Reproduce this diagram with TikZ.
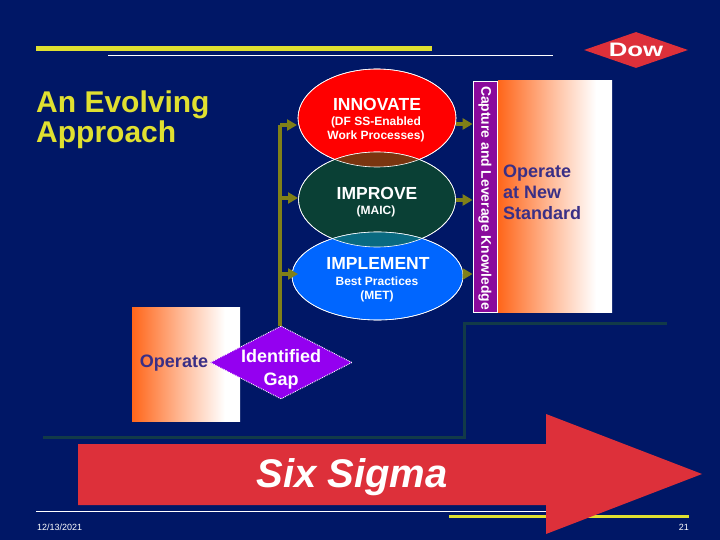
\documentclass[tikz,border=0pt]{standalone}
\usepackage{fontspec}
\setmainfont{Liberation Sans}
\usetikzlibrary{shapes.geometric,arrows.meta}
\definecolor{bgblue}{HTML}{001766}
\definecolor{titley}{HTML}{E0E030}
\definecolor{olive}{HTML}{808018}
\definecolor{darkline}{HTML}{123A48}
\definecolor{redbar}{HTML}{DD303A}
\definecolor{barpurple}{HTML}{8A0A9C}
\definecolor{gappurple}{HTML}{9400F0}
\definecolor{textpurple}{HTML}{3A2F86}
\definecolor{orangeg}{HTML}{FF661A}
\definecolor{impgreen}{HTML}{0A4035}
\definecolor{impblue}{HTML}{0066FF}
\definecolor{lensbrown}{HTML}{7A3510}
\definecolor{lensteal}{HTML}{0A6A80}
\pgfdeclarehorizontalshading{opgrad}{100bp}{color(0bp)=(orangeg); color(25bp)=(orangeg); color(48bp)=(orangeg!45!white); color(68bp)=(white); color(100bp)=(white)}
\tikzset{
  oval/.style={ellipse,draw=white,line width=0.6pt,inner sep=0pt},
  grad/.style={rectangle,shading=opgrad,inner sep=0pt},
  label/.style={inner sep=0pt,text=white,align=center},
  flow/.style={draw=olive,line width=3.5pt,-{Triangle[length=10pt,width=11pt]}},
  trunk/.style={draw=olive,line width=4pt},
  stepline/.style={draw=darkline,line width=3pt},
  heads/.style={font=\fontsize{17.5}{20}\selectfont\bfseries},
  subs/.style={font=\fontsize{12}{14}\selectfont\bfseries},
  big/.style={font=\fontsize{18}{21}\selectfont\bfseries},
  foot/.style={font=\fontsize{9}{10}\selectfont,text=white,inner sep=0pt}
}
\begin{document}
\begin{tikzpicture}[x=1pt,y=-1pt]
\fill[bgblue] (0,0) rectangle (720,540);
\useasboundingbox (0,0) rectangle (720,540);
% rules
\fill[titley] (36,46.5) rectangle (432,51.5);
\draw[white,line width=0.7pt] (108,55) -- (553,55);
\draw[white,line width=0.7pt] (36,511) -- (546,511);
\fill[titley] (449,514.5) rectangle (689,517.5);
% logo
\node[diamond,fill=redbar,minimum width=104pt,minimum height=36pt,inner sep=0pt,aspect=2.9] (logo) at (636,50) {};
\node[font=\fontsize{19.5}{20}\selectfont\bfseries,text=white,inner sep=0pt,xscale=1.32] (logotext) at (636,50) {Dow};
% title
\node[anchor=north west,inner sep=0pt,text=titley,align=left,font=\fontsize{30}{30}\selectfont\bfseries] (title) at (36,91) {An Evolving\\Approach};
% ovals
\node[oval,fill=red,minimum width=158pt,minimum height=98pt] (innovate) at (377,118) {};
\node[oval,fill=impgreen,minimum width=157pt,minimum height=95pt] (improve) at (377,199.5) {};
\node[oval,fill=impblue,minimum width=171pt,minimum height=88pt] (implement) at (377.5,276) {};
\begin{scope}
  \clip (377,118) ellipse [x radius=79,y radius=49];
  \fill[lensbrown] (377,199.5) ellipse [x radius=78.5,y radius=47.5];
\end{scope}
\begin{scope}
  \clip (377,199.5) ellipse [x radius=78.5,y radius=47.5];
  \fill[lensteal] (377.5,276) ellipse [x radius=85.5,y radius=44];
\end{scope}
\draw[white,line width=0.6pt] (377,118) ellipse [x radius=79,y radius=49];
\draw[white,line width=0.6pt] (377,199.5) ellipse [x radius=78.5,y radius=47.5];
\draw[white,line width=0.6pt] (377.5,276) ellipse [x radius=85.5,y radius=44];
% oval labels
\node[label,heads] (t1) at (377,104) {INNOVATE};
\node[label,subs] (t1b) at (376,129) {(DF SS-Enabled\\Work Processes)};
\node[label,heads] (t2) at (377,193) {IMPROVE};
\node[label,subs] (t2b) at (376,211) {(MAIC)};
\node[label,heads] (t3) at (378,263) {IMPLEMENT};
\node[label,subs] (t3b) at (377,289) {Best Practices\\(MET)};
% bar and gradient boxes
\node[rectangle,draw=white,line width=0.8pt,fill=barpurple,minimum width=24pt,minimum height=231pt,inner sep=0pt] (bar) at (485,196.5) {};
\node[label,rotate=-90,font=\fontsize{13.9}{15}\selectfont\bfseries] (bartext) at (485,198) {Capture and Leverage Knowledge};
\node[grad,minimum width=114pt,minimum height=231pt] (newstd) at (555,196.5) {};
\node[anchor=west,inner sep=0pt,align=left,text=textpurple,big] (newstdt) at (503,192) {Operate\\at New\\Standard};
\node[grad,minimum width=108pt,minimum height=114pt] (operate) at (186,364) {};
\node[inner sep=0pt,text=textpurple,big] (operatet) at (174,363) {Operate};
% step line
\coordinate (s0) at (43,437);
\coordinate (s1) at (464,437);
\coordinate (s2) at (464,323);
\coordinate (s3) at (667,323);
\draw[stepline] (s0) -- (s1) -- (s2) -- (s3);
% gap diamond
\node[diamond,draw=white,line width=0.9pt,densely dotted,fill=gappurple,minimum width=142pt,minimum height=73pt,aspect=1.95,inner sep=0pt] (gap) at (281,362.5) {};
\node[label,font=\fontsize{18}{23}\selectfont\bfseries] (gapt) at (281,369) {Identified\\Gap};
% connectors
\coordinate (tr) at (280,125);
\coordinate (y2) at (0,198);
\coordinate (y3) at (0,274);
\coordinate (l1) at (297,125);
\coordinate (l2) at (298,198);
\coordinate (l3) at (298,274);
\draw[trunk] ([xshift=-1pt]gap.north) -- (tr);
\draw[flow] (tr) -- (l1);
\draw[flow] (tr |- y2) -- (l2);
\draw[flow] (tr |- y3) -- (l3);
\coordinate (r1) at (0,124);
\coordinate (r2) at (0,200);
\draw[flow] (innovate.east |- r1) -- (bar.west |- r1);
\draw[flow] (improve.east |- r2) -- (bar.west |- r2);
\draw[flow,shorten <=-1pt] (implement.east |- y3) -- (bar.west |- y3);
% big arrow
\path[fill=redbar] (78,444) -- (546,444) -- (546,414) -- (702,474) -- (546,534) -- (546,505) -- (78,505) -- cycle;
\node[inner sep=0pt,text=white,font=\fontsize{40}{40}\selectfont\bfseries\itshape] (six) at (352,477) {Six Sigma};
% footer
\node[foot,anchor=west] (date) at (37,527) {12/13/2021};
\node[foot,anchor=east] (page) at (689,527) {21};
\end{tikzpicture}
\end{document}
